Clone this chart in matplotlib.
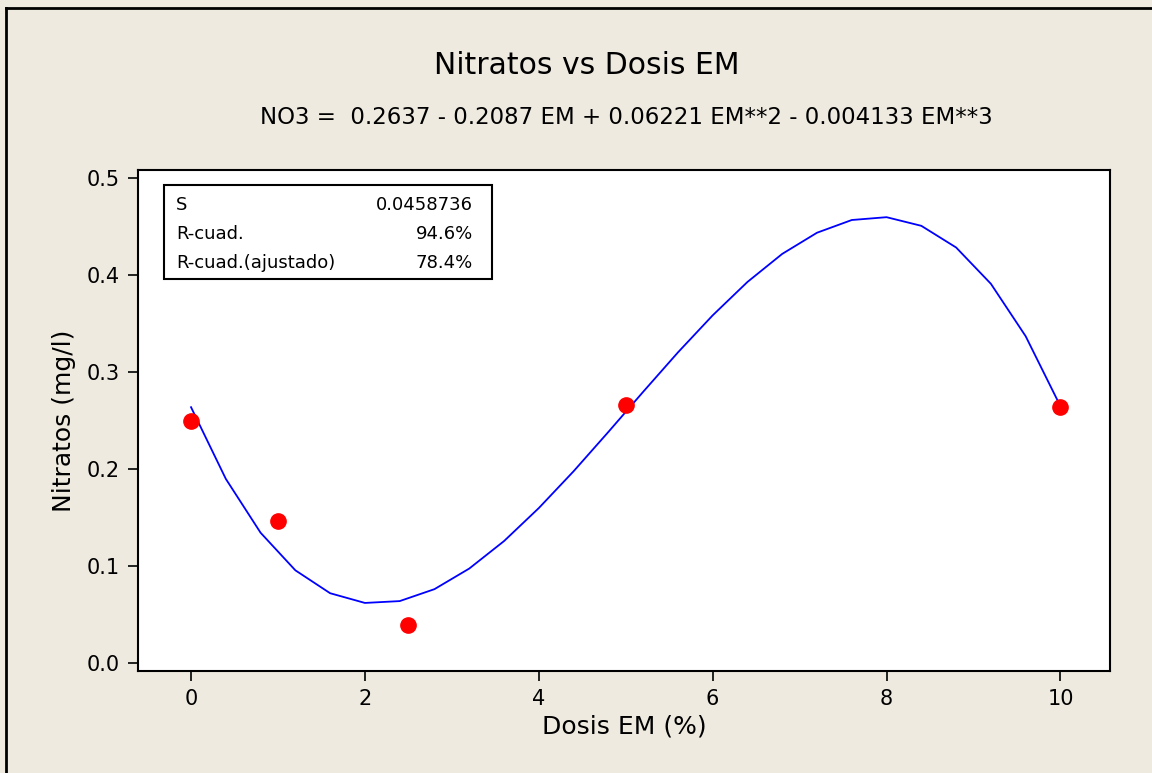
import matplotlib
matplotlib.use('Agg')
import matplotlib.pyplot as plt
from matplotlib.lines import Line2D

# Datos observados
dosis = [0, 1, 2.5, 5, 10]
nitratos = [0.249, 0.146, 0.039, 0.266, 0.264]

# Curva ajustada
curva_x = [0.0, 0.4, 0.8, 1.2, 1.6, 2.0, 2.4, 2.8, 3.2, 3.6, 4.0, 4.4, 4.8,
           5.2, 5.6, 6.0, 6.4, 6.8, 7.2, 7.6, 8.0, 8.4, 8.8, 9.2, 9.6, 10.0]
curva_y = [0.2637, 0.1899, 0.1344, 0.0957, 0.0721, 0.0621, 0.0640, 0.0763,
           0.0975, 0.1258, 0.1598, 0.1977, 0.2382, 0.2795, 0.3201, 0.3583,
           0.3927, 0.4216, 0.4434, 0.4565, 0.4594, 0.4505, 0.4282, 0.3908,
           0.3368, 0.2647]

x_ticks = [0, 2, 4, 6, 8, 10]
y_ticks = [0.0, 0.1, 0.2, 0.3, 0.4, 0.5]
stats_labels = ['S', 'R-cuad.', 'R-cuad.(ajustado)']
stats_values = ['0.0458736', '94.6%', '78.4%']

bg = '#EEEAE0'
fig = plt.figure(figsize=(11.52, 7.73), dpi=100, facecolor=bg)
ax = fig.add_axes([138 / 1152, 1 - 671 / 773, (1110 - 138) / 1152, (671 - 170) / 773])
ax.set_facecolor('white')

ax.plot(curva_x, curva_y, color='#0000FF', lw=1.3, zorder=2)
ax.plot(dosis, nitratos, 'o', color='#FF0000', ms=11, mec='#FF0000', zorder=3)

ax.set_xlim(-0.61, 10.57)
ax.set_ylim(-0.008, 0.508)
ax.set_xticks(x_ticks)
ax.set_yticks(y_ticks)
ax.set_yticklabels([f'{v:.1f}' for v in y_ticks])
ax.tick_params(direction='out', length=7, width=1.2, labelsize=15, pad=6)
for s in ax.spines.values():
    s.set_linewidth(1.5)

ax.set_xlabel('Dosis EM (%)', fontsize=18, labelpad=4)
ax.set_ylabel('Nitratos (mg/l)', fontsize=18, labelpad=8)

fig.text(0.509, 1 - 65 / 773, 'Nitratos vs Dosis EM', ha='center', va='center', fontsize=21.5)
fig.text(0.544, 1 - 117 / 773,
         'NO3 =  0.2637 - 0.2087 EM + 0.06221 EM**2 - 0.004133 EM**3',
         ha='center', va='center', fontsize=16.5)

# Cuadro de estadisticas
bx0, by0 = 164 / 1152, 1 - 279 / 773
bw, bh = (492 - 164) / 1152, (279 - 185) / 773
fig.patches.append(plt.Rectangle((bx0, by0), bw, bh, transform=fig.transFigure,
                                 facecolor='white', edgecolor='black', lw=1.5, zorder=5))
for i, (lab, val) in enumerate(zip(stats_labels, stats_values)):
    yy = 1 - (205 + i * 29) / 773
    fig.text(176 / 1152, yy, lab, ha='left', va='center', fontsize=13, zorder=6)
    fig.text(473 / 1152, yy, val, ha='right', va='center', fontsize=13, zorder=6)

# Marco exterior
fig.add_artist(Line2D([6 / 1152, 1], [1 - 8 / 773, 1 - 8 / 773], color='black', lw=2))
fig.add_artist(Line2D([6 / 1152, 6 / 1152], [0, 1 - 8 / 773], color='black', lw=2))

fig.savefig('out.png', dpi=100, facecolor=bg)
